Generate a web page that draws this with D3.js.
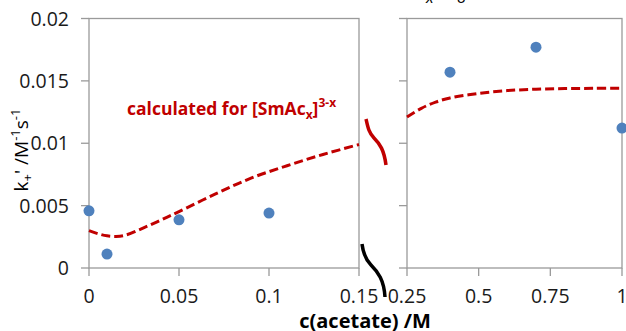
<!DOCTYPE html>
<html><head><meta charset="utf-8">
<script src="https://cdn.jsdelivr.net/npm/d3@7"></script>
<style>
html,body{margin:0;padding:0;background:#fff;}
svg{display:block;font-family:"Open Sans",sans-serif;}
</style></head>
<body><svg id="c" width="626" height="331"></svg>
<script>
// Measured points (blue)
const leftPtsX = [0, 0.01, 0.05, 0.1];
const leftPtsY = [0.00458, 0.00112, 0.00386, 0.0044];
const rightPtsX = [0.4, 0.7, 1.0];
const rightPtsY = [0.0157, 0.0177, 0.01122];
// Calculated curve (red dashed)
const leftCurveX = [0, 0.005, 0.01, 0.015, 0.02, 0.03, 0.04, 0.05, 0.07, 0.09, 0.11, 0.13, 0.15];
const leftCurveY = [0.0030, 0.00275, 0.00258, 0.00253, 0.00262, 0.0032, 0.00385, 0.00452, 0.00592, 0.0072, 0.0082, 0.0091, 0.0099];
const rightCurveX = [0.25, 0.3, 0.35, 0.4, 0.5, 0.6, 0.7, 0.8, 0.9, 1.0];
const rightCurveY = [0.0121, 0.0128, 0.0133, 0.01363, 0.0140, 0.01422, 0.01433, 0.01438, 0.0144, 0.01441];
// Ticks
const yTicks = [0, 0.005, 0.01, 0.015, 0.02];
const leftXTicks = [0, 0.05, 0.1, 0.15];
const rightXTicks = [0.25, 0.5, 0.75, 1];

const svg = d3.select("#c");
const axisCol = "#9a9a9a", textCol = "#1a1a1a", red = "#C00000", blue = "#4F81BD";

const y = d3.scaleLinear().domain([0, 0.02]).range([268, 18.5]);
const xL = d3.scaleLinear().domain([0, 0.15]).range([89, 359]);
const xR = d3.scaleLinear().domain([0.25, 1]).range([407, 622]);

function panel(x, xt, labels) {
  const g = svg.append("g");
  const [x0, x1] = x.range();
  g.append("rect").attr("x", x0).attr("y", y(0.02)).attr("width", x1 - x0).attr("height", y(0) - y(0.02))
    .attr("fill", "none").attr("stroke", axisCol).attr("stroke-width", 1.3);
  g.selectAll(".yt").data(yTicks).join("line")
    .attr("x1", x0 - 8).attr("x2", x0).attr("y1", d => y(d)).attr("y2", d => y(d))
    .attr("stroke", axisCol).attr("stroke-width", 1.3);
  g.selectAll(".xt").data(xt).join("line")
    .attr("x1", d => x(d)).attr("x2", d => x(d)).attr("y1", y(0)).attr("y2", y(0) + 8)
    .attr("stroke", axisCol).attr("stroke-width", 1.3);
  g.selectAll(".xl").data(xt).join("text")
    .attr("x", d => x(d)).attr("y", 303).attr("text-anchor", "middle")
    .attr("font-size", 19.5).attr("fill", textCol).text(d => d3.format("~g")(d));
  if (labels) {
    g.selectAll(".yl").data(yTicks).join("text")
      .attr("x", 69).attr("y", d => y(d) + 7).attr("text-anchor", "end")
      .attr("font-size", 19.5).attr("fill", textCol).text(d => d3.format("~g")(d));
  }
  return g;
}
panel(xL, leftXTicks, true);
panel(xR, rightXTicks, false);

const line = (x) => d3.line().x(d => x(d[0])).y(d => y(d[1])).curve(d3.curveCatmullRom);
svg.append("path").datum(d3.zip(leftCurveX, leftCurveY)).attr("d", line(xL))
  .attr("fill", "none").attr("stroke", red).attr("stroke-width", 3).attr("stroke-dasharray", "9,4");
svg.append("path").datum(d3.zip(rightCurveX, rightCurveY)).attr("d", line(xR))
  .attr("fill", "none").attr("stroke", red).attr("stroke-width", 3).attr("stroke-dasharray", "9,4");

svg.selectAll(".pl").data(d3.zip(leftPtsX, leftPtsY)).join("circle")
  .attr("cx", d => xL(d[0])).attr("cy", d => y(d[1])).attr("r", 5.5).attr("fill", blue);
svg.selectAll(".pr").data(d3.zip(rightPtsX, rightPtsY)).join("circle")
  .attr("cx", d => xR(d[0])).attr("cy", d => y(d[1])).attr("r", 5.5).attr("fill", blue);

// break marks
svg.append("path").attr("d", "M366,119 C368,128 369,133 374,138 C380,144 384,150 386,165")
  .attr("fill", "none").attr("stroke", red).attr("stroke-width", 3.5);
svg.append("path").attr("d", "M362,244 C363,252 365,259 371,265 C378,272 384,280 385,297")
  .attr("fill", "none").attr("stroke", "#000").attr("stroke-width", 3.5);

// annotation
const ann = svg.append("text").attr("x", 127).attr("y", 115).attr("font-size", 17.5)
  .attr("font-weight", "bold").attr("fill", red);
ann.append("tspan").text("calculated for [SmAc");
ann.append("tspan").attr("font-size", 12).attr("dy", 4).text("x");
ann.append("tspan").attr("dy", -4).text("]");
ann.append("tspan").attr("font-size", 12).attr("dy", -8).text("3-x");

// y axis title
const yt = svg.append("text").attr("transform", "translate(28,150) rotate(-90)").attr("text-anchor", "middle")
  .attr("font-size", 19).attr("fill", "#000");
yt.append("tspan").text("k");
yt.append("tspan").attr("font-size", 13).attr("dy", 4).text("+");
yt.append("tspan").attr("dy", -4).text("' /M");
yt.append("tspan").attr("font-size", 13).attr("dy", -8).text("-1");
yt.append("tspan").attr("dy", 8).text("s");
yt.append("tspan").attr("font-size", 13).attr("dy", -8).text("-1");

// x axis title
svg.append("text").attr("x", 365).attr("y", 328).attr("text-anchor", "middle")
  .attr("font-size", 20).attr("font-weight", "bold").attr("fill", "#000").text("c(acetate) /M");

// cut-off text at top
svg.append("text").attr("x", 426).attr("y", 3).attr("font-size", 16).attr("font-style", "italic").attr("fill", "#000").text("x");
svg.append("text").attr("x", 457).attr("y", 3).attr("font-size", 16).attr("font-style", "italic").attr("fill", "#000").text("8");
</script></body></html>
